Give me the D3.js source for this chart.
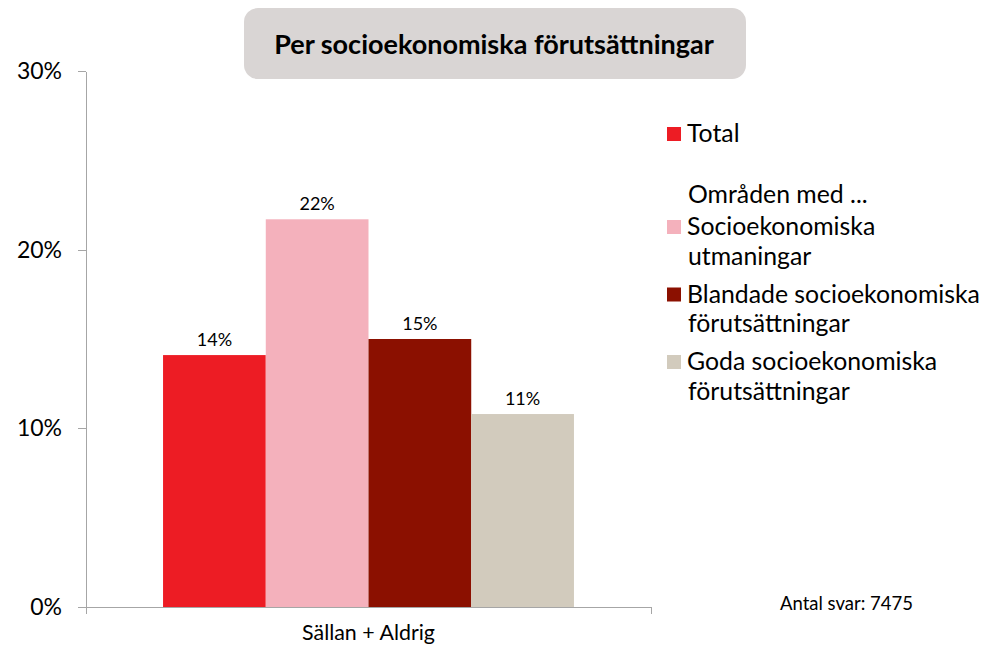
<!DOCTYPE html>
<html lang="sv">
<head>
<meta charset="utf-8">
<title>Per socioekonomiska förutsättningar</title>
<script src="https://d3js.org/d3.v7.min.js"></script>
<style>
  body { margin: 0; background: #fff; }
  svg { font-family: Lato, "Open Sans", sans-serif; }
  .axis path, .axis line { fill: none; stroke: #a6a6a6; stroke-width: 1.3; shape-rendering: crispEdges; }
  .axis text { fill: #000; }
</style>
</head>
<body>
<script>
// data
var categories = ["Sällan + Aldrig"];
var seriesNames = ["Total", "Socioekonomiska utmaningar", "Blandade socioekonomiska förutsättningar", "Goda socioekonomiska förutsättningar"];
var seriesValues = [14.1, 21.7, 15.0, 10.8];
var valueLabels = ["14%", "22%", "15%", "11%"];
var seriesColors = ["#ED1C24", "#F4B1BC", "#8B1000", "#D2CBBD"];
var legendLines = [["Total"], ["Socioekonomiska", "utmaningar"], ["Blandade socioekonomiska", "förutsättningar"], ["Goda socioekonomiska", "förutsättningar"]];
var yTicks = [0, 10, 20, 30];
var title = "Per socioekonomiska förutsättningar";
var legendHeader = "Områden med ...";
var note = "Antal svar: 7475";

var w = 982, h = 645;
var svg = d3.select("body").append("svg")
    .attr("width", w)
    .attr("height", h);

// title box
svg.append("rect")
    .attr("x", 244).attr("y", 8)
    .attr("width", 502).attr("height", 71)
    .attr("rx", 14)
    .attr("fill", "#D9D5D4");
svg.append("text")
    .attr("x", 494).attr("y", 54)
    .attr("text-anchor", "middle")
    .attr("font-weight", "bold")
    .attr("font-size", "27px")
    .text(title);

var y = d3.scaleLinear().domain([0, 30]).range([607, 71]);
var x0 = d3.scaleBand().domain(categories).range([86, 651]).paddingInner(0).paddingOuter(0.1875);
var x1 = d3.scaleBand().domain(seriesNames).range([0, x0.bandwidth()]);

// y axis
svg.append("g")
    .attr("class", "axis")
    .attr("transform", "translate(86,0)")
    .call(d3.axisLeft(y).tickValues(yTicks).tickFormat(function(d) { return d + "%"; })
        .tickSizeInner(8).tickSizeOuter(0).tickPadding(16))
    .selectAll("text")
    .attr("font-size", "23px")
    .attr("font-family", "Lato");

// x axis
svg.append("g")
    .attr("class", "axis")
    .attr("transform", "translate(0,607)")
    .call(d3.axisBottom(x0).tickSizeInner(0).tickSizeOuter(7).tickPadding(18))
    .selectAll("text")
    .attr("font-size", "21.4px")
    .attr("font-family", "Lato");

var rows = seriesNames.map(function(s, i) {
    return { name: s, value: seriesValues[i], label: valueLabels[i], color: seriesColors[i] };
});

var group = svg.append("g")
    .attr("transform", "translate(" + x0(categories[0]) + ",0)");

group.selectAll("rect")
    .data(rows)
    .enter()
    .append("rect")
    .attr("x", function(d) { return x1(d.name); })
    .attr("y", function(d) { return y(d.value); })
    .attr("width", x1.bandwidth())
    .attr("height", function(d) { return y(0) - y(d.value); })
    .attr("fill", function(d) { return d.color; });

group.selectAll("text.val")
    .data(rows)
    .enter()
    .append("text")
    .attr("class", "val")
    .attr("x", function(d) { return x1(d.name) + x1.bandwidth() / 2; })
    .attr("y", function(d) { return y(d.value) - 9; })
    .attr("text-anchor", "middle")
    .attr("font-size", "18px")
    .text(function(d) { return d.label; });

// legend
var legendY = [142, 235, 302.5, 370];
var legend = svg.append("g");
legend.append("text")
    .attr("x", 688).attr("y", 202.5)
    .attr("font-size", "24.8px")
    .text(legendHeader);

var item = legend.selectAll("g.item")
    .data(rows)
    .enter()
    .append("g")
    .attr("class", "item")
    .attr("transform", function(d, i) { return "translate(667," + legendY[i] + ")"; });

item.append("rect")
    .attr("x", 0).attr("y", -15)
    .attr("width", 14).attr("height", 14)
    .attr("fill", function(d) { return d.color; });

item.append("text")
    .attr("font-size", "24.8px")
    .selectAll("tspan")
    .data(function(d, i) { return legendLines[i]; })
    .enter()
    .append("tspan")
    .attr("x", function(d, i) { return i === 0 ? 20 : 21; })
    .attr("dy", function(d, i) { return i === 0 ? 0 : 29.5; })
    .text(function(d) { return d; });

svg.append("text")
    .attr("x", 780).attr("y", 610)
    .attr("font-size", "18.5px")
    .text(note);
</script>
</body>
</html>
